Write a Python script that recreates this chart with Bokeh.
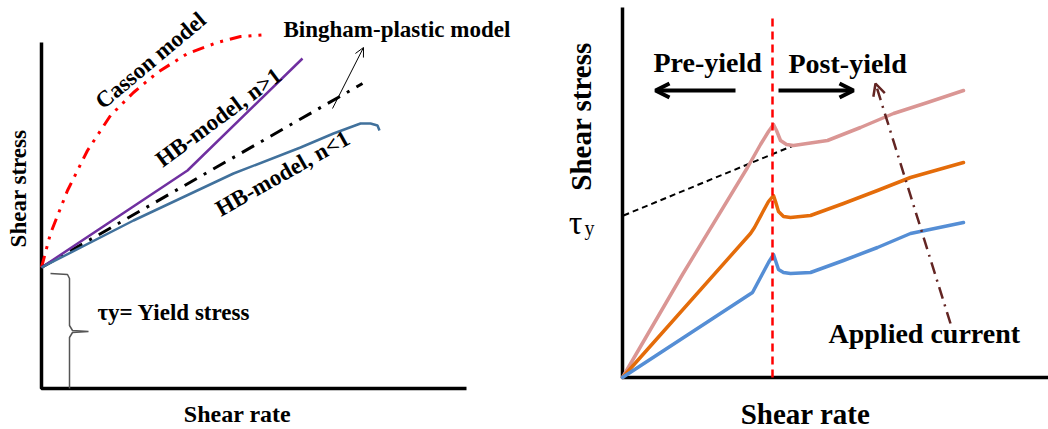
from bokeh.plotting import figure
from bokeh.layouts import row
from bokeh.models import Range1d, Label, Arrow, OpenHead
from bokeh.embed import file_html
from bokeh.resources import INLINE

# ---------------- Left panel data (schematic units) ----------------
left_axis_x = [0, 0, 425]
left_axis_y = [346, 0, 0]
yield_stress = 121
casson_x = [0, 9, 26, 46, 69, 92, 116, 146, 176, 199, 226]
casson_y = [121, 155, 198, 238, 273, 296, 316, 335, 346, 352, 354]
hb_gt_x = [0, 146, 261]
hb_gt_y = [121, 218, 330]
bingham_x = [0, 321]
bingham_y = [121, 305]
hb_lt_x = [0, 92, 192, 259, 292, 319, 329, 336, 338]
hb_lt_y = [121, 168, 215, 241, 255, 265, 265, 263, 258]
brace_x = [9, 26, 28, 28, 31, 47, 31, 28, 28]
brace_y = [115, 114, 110, 63, 58, 57, 56, 51, 0]

# ---------------- Right panel data (schematic units) ----------------
right_axis_x = [0, 0, 426]
right_axis_y = [370, 0, 0]
yield_rate = 150
tau_line_x = [1, 171]
tau_line_y = [162, 232]
pink_x = [0, 60, 125, 138, 146, 151, 154, 158, 164, 171, 205, 238, 271, 305, 341]
pink_y = [0, 103, 210, 233, 246, 253, 247, 237, 233, 232, 237, 250, 264, 275, 287]
orange_x = [0, 128, 132, 140, 146, 151, 153, 156, 161, 168, 188, 221, 255, 288, 341]
orange_y = [0, 144, 150, 165, 176, 182, 176, 166, 161, 160, 162, 174, 187, 200, 215]
blue_x = [0, 130, 138, 146, 151, 153, 156, 161, 168, 188, 221, 255, 288, 341]
blue_y = [0, 85, 100, 115, 123, 117, 108, 105, 104, 105, 117, 130, 144, 155]

FONT = "Liberation Serif"


def base_fig(w, h, xr, yr):
    p = figure(width=w, height=h, x_range=Range1d(*xr), y_range=Range1d(*yr),
               output_backend="svg", toolbar_location=None, min_border=0,
               x_axis_location=None, y_axis_location=None)
    p.grid.visible = False
    p.outline_line_color = None
    p.background_fill_color = "white"
    p.border_fill_color = "white"
    return p


def lab(p, x, y, text, size, angle=0, align="left", baseline="alphabetic", bold=True, color="black"):
    p.add_layout(Label(x=x, y=y, text=text, angle=angle, angle_units="deg",
                       text_font=FONT, text_font_size=size,
                       text_font_style="bold" if bold else "normal",
                       text_align=align, text_baseline=baseline, text_color=color))


# ---------------- Left figure ----------------
pl = base_fig(520, 429, (-41, 479), (-41, 388))
pl.line(left_axis_x, left_axis_y, line_color="black", line_width=3.5)
pl.line(brace_x, brace_y, line_color="#555555", line_width=1.5)
pl.line(casson_x, casson_y, line_color="#FF0000", line_width=3, line_dash="12 7 3 7 3 7")
pl.line(bingham_x, bingham_y, line_color="black", line_width=3, line_dash="14 8 3 8")
pl.line(hb_gt_x, hb_gt_y, line_color="#7030A0", line_width=2.5)
pl.line(hb_lt_x, hb_lt_y, line_color="#41719C", line_width=2.5)
pl.add_layout(Arrow(end=OpenHead(size=9, line_width=1, line_color="black"),
                    x_start=291, y_start=280, x_end=322, y_end=341,
                    line_color="black", line_width=1))

lab(pl, 242, 359, "Bingham-plastic model", "23px")
lab(pl, 109, 328, "Casson model", "23px", angle=40, align="center", baseline="middle")
lab(pl, 177, 271, "HB-model, n>1", "23px", angle=36.5, align="center", baseline="middle")
lab(pl, 241, 215, "HB-model, n<1", "23px", angle=29.5, align="center", baseline="middle")
lab(pl, -23, 200, "Shear stress", "23px", angle=90, align="center", baseline="middle")
lab(pl, 196, -25, "Shear rate", "24px", align="center", baseline="middle")
lab(pl, 56, 76, "\u03c4y= Yield stress", "23px")

# ---------------- Right figure ----------------
pr = base_fig(528, 429, (-102, 426), (-52, 377))
pr.line(right_axis_x, right_axis_y, line_color="black", line_width=3.5)
pr.line(tau_line_x, tau_line_y, line_color="black", line_width=2, line_dash="6 4")
pr.line(pink_x, pink_y, line_color="#DA9694", line_width=3.5, line_cap="round", line_join="round")
pr.line(orange_x, orange_y, line_color="#E46C0A", line_width=3.5, line_cap="round", line_join="round")
pr.line(blue_x, blue_y, line_color="#558ED5", line_width=3.5, line_cap="round", line_join="round")
pr.line([yield_rate, yield_rate], [0, 362], line_color="#FF0000", line_width=2.5, line_dash="8 5")
pr.add_layout(Arrow(end=OpenHead(size=14, line_width=4, line_color="black"),
                    x_start=113, y_start=287, x_end=33, y_end=287,
                    line_color="black", line_width=4))
pr.add_layout(Arrow(end=OpenHead(size=14, line_width=4, line_color="black"),
                    x_start=156, y_start=287, x_end=231, y_end=287,
                    line_color="black", line_width=4))
pr.add_layout(Arrow(end=OpenHead(size=12, line_width=2.5, line_color="#632523"),
                    x_start=328, y_start=54, x_end=253, y_end=294,
                    line_color="#632523", line_width=2.5, line_dash="12 6 2 6"))

lab(pr, 31, 315, "Pre-yield", "28px")
lab(pr, 166, 314, "Post-yield", "28px")
lab(pr, -42, 261, "Shear stress", "29px", angle=90, align="center", baseline="middle")
lab(pr, 206, 44, "Applied current", "28px")
lab(pr, 183, -36, "Shear rate", "29px", align="center", baseline="middle")
lab(pr, -47, 155, "\u03c4", "34px", align="center", baseline="middle", bold=False)
lab(pr, -38, 150, "y", "20px", align="left", baseline="middle", bold=False)

layout = row(pl, pr, spacing=0)
open("out.html", "w").write(file_html(layout, INLINE))
